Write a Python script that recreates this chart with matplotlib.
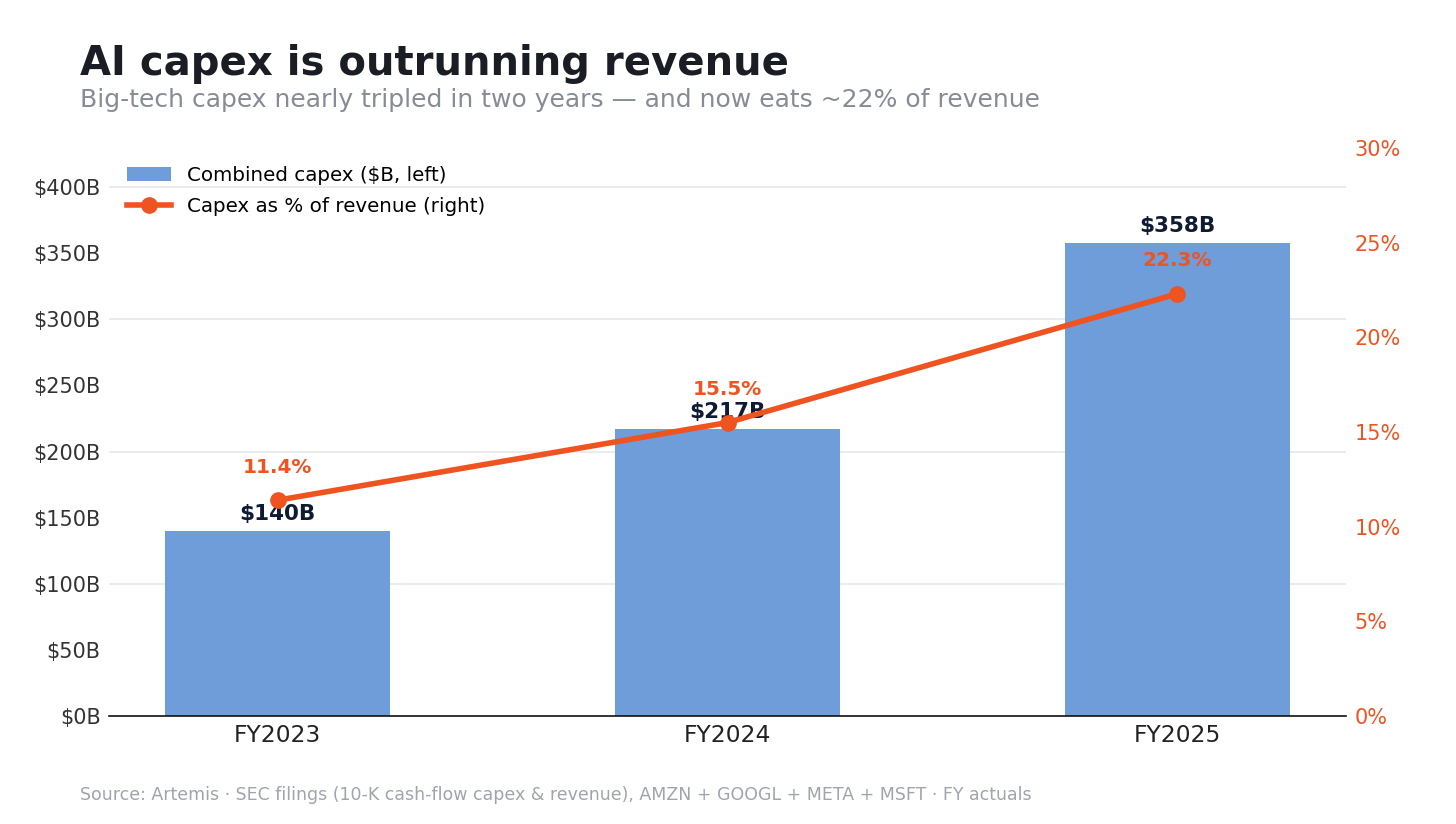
import matplotlib
matplotlib.use("Agg")
import matplotlib.pyplot as plt
from matplotlib.ticker import FuncFormatter

plt.rcParams["font.family"] = ["DejaVu Sans"]

categories = ["FY2023", "FY2024", "FY2025"]
capex_b = [140, 217, 358]
capex_pct = [11.4, 15.5, 22.3]
left_ticks = [0, 50, 100, 150, 200, 250, 300, 350, 400]
grid_levels = [100, 200, 300, 400]
right_ticks = [0, 5, 10, 15, 20, 25, 30]

BAR = "#6E9DDA"
ORANGE = "#EE5320"
NAVY = "#0F1B33"

fig = plt.figure(figsize=(14.56, 8.24), dpi=100)
ax = fig.add_axes([0.0749, 0.131, 0.8496, 0.6894])
x = list(range(len(categories)))
bars = ax.bar(x, capex_b, width=0.5, color=BAR, label="Combined capex ($B, left)", zorder=2)
ax.set_ylim(0, max(capex_b) * 1.2)
ax.set_yticks(left_ticks)
ax.yaxis.set_major_formatter(FuncFormatter(lambda v, p: f"${v:.0f}B"))
ax.set_xticks(x)
ax.set_xticklabels(categories, fontsize=16.8, color="#222222")
ax.tick_params(axis="y", length=0, labelsize=15, labelcolor="#333333", pad=6)
ax.tick_params(axis="x", length=0, pad=6)
for g in grid_levels:
    ax.axhline(g, color="#E5E7EB", linewidth=1.2, zorder=0)
for s in ["top", "right", "left"]:
    ax.spines[s].set_visible(False)
ax.spines["bottom"].set_color("#111111")
ax.spines["bottom"].set_linewidth(1.2)

for xi, v in zip(x, capex_b):
    ax.annotate(f"${v}B", (xi, v), xytext=(0, 5), textcoords="offset points",
                ha="center", va="bottom", fontsize=15.5, fontweight="bold", color=NAVY, zorder=5)

ax2 = ax.twinx()
line, = ax2.plot(x, capex_pct, color=ORANGE, linewidth=4, marker="o", markersize=11,
                 label="Capex as % of revenue (right)", zorder=4)
ax2.set_ylim(0, 30)
ax2.set_yticks(right_ticks)
ax2.yaxis.set_major_formatter(FuncFormatter(lambda v, p: f"{v:.0f}%"))
ax2.tick_params(axis="y", length=0, labelsize=15, labelcolor=ORANGE, pad=6)
for s in ["top", "right", "left", "bottom"]:
    ax2.spines[s].set_visible(False)
for xi, v in zip(x, capex_pct):
    ax2.annotate(f"{v:.1f}%", (xi, v), xytext=(0, 17), textcoords="offset points",
                 ha="center", va="bottom", fontsize=14.4, fontweight="bold", color=ORANGE, zorder=5)

ax.legend([bars, line], ["Combined capex ($B, left)", "Capex as % of revenue (right)"],
          loc="upper left", bbox_to_anchor=(0.0, 1.0), frameon=False, fontsize=14.3,
          handlelength=2.2, labelspacing=0.6)

fig.text(0.055, 0.909, "AI capex is outrunning revenue", fontsize=28.9, fontweight="bold",
         color="#1A1D24", ha="left", va="baseline")
fig.text(0.055, 0.870, "Big-tech capex nearly tripled in two years — and now eats ~22% of revenue",
         fontsize=18, color="#868B96", ha="left", va="baseline")
fig.text(0.055, 0.029, "Source: Artemis · SEC filings (10-K cash-flow capex & revenue), AMZN + GOOGL + META + MSFT · FY actuals",
         fontsize=12.5, color="#A0A4AB", ha="left", va="baseline")

fig.savefig("out.png", dpi=100, facecolor="white")
